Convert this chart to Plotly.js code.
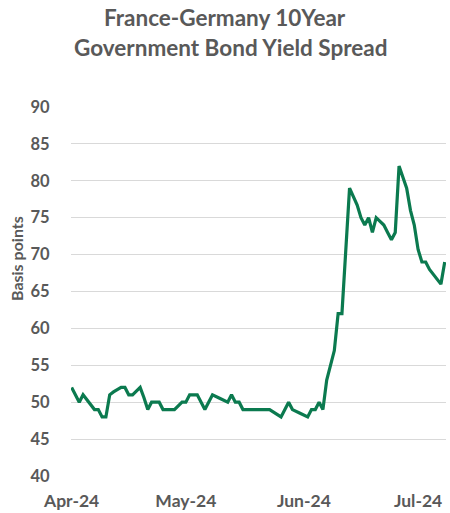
<!DOCTYPE html>
<html>
<head>
<meta charset="utf-8">
<script src="https://cdn.plot.ly/plotly-3.0.1.min.js"></script>
<style>html,body{margin:0;padding:0;background:#fff;}#chart{width:450px;height:513px;}</style>
</head>
<body>
<div id="chart"></div>
<script>
const dates = ["2024-04-01","2024-04-03","2024-04-04","2024-04-06","2024-04-07","2024-04-08","2024-04-09","2024-04-10","2024-04-11","2024-04-12","2024-04-14","2024-04-15","2024-04-16","2024-04-17","2024-04-19","2024-04-20","2024-04-21","2024-04-22","2024-04-24","2024-04-25","2024-04-28","2024-04-30","2024-05-01","2024-05-02","2024-05-04","2024-05-06","2024-05-08","2024-05-10","2024-05-12","2024-05-13","2024-05-14","2024-05-15","2024-05-16","2024-05-23","2024-05-26","2024-05-28","2024-05-29","2024-05-31","2024-06-02","2024-06-03","2024-06-04","2024-06-05","2024-06-06","2024-06-07","2024-06-09","2024-06-10","2024-06-11","2024-06-13","2024-06-15","2024-06-16","2024-06-17","2024-06-18","2024-06-19","2024-06-20","2024-06-22","2024-06-23","2024-06-24","2024-06-25","2024-06-26","2024-06-28","2024-06-29","2024-06-30","2024-07-01","2024-07-02","2024-07-03","2024-07-04","2024-07-07","2024-07-08"];
const spread = [52,50,51,49.6,49,49,48,48,51,51.4,52,52,51,51,52,50.6,49,50,50,49,49,50,50,51,51,49,51,50.5,50,51,50,50,49,49,48,50,49,48.5,48,49,49,50,49,53,57,62,62,79,76.7,75,74,75,73,75,74,73,72,73,82,79,76,74,70.7,69,69,68,66,69];
const yTicks = [40,45,50,55,60,65,70,75,80,85,90];
const xTickVals = ["2024-04-01","2024-05-01","2024-06-01","2024-07-01"];
const xTickText = ["Apr-24","May-24","Jun-24","Jul-24"];
const titleLines = ["France-Germany 10Year","Government Bond Yield Spread"];

const trace = {
  x: dates, y: spread, type: 'scatter', mode: 'lines',
  line: {color: '#0b7a4f', width: 3.2, shape: 'linear'},
  hoverinfo: 'x+y'
};
const gray = '#595959';
const fam = 'Lato, "Open Sans", sans-serif';
const plotH = 513 - 107 - 37;
function py(pix) { return (513 - 37 - pix) / plotH; }
const layout = {
  width: 450, height: 513,
  margin: {l: 71, r: 4, t: 107, b: 37},
  paper_bgcolor: '#fff', plot_bgcolor: '#fff',
  showlegend: false,
  font: {family: fam, color: gray},
  xaxis: {
    type: 'date',
    range: ['2024-03-31 20:00', '2024-07-08 08:00'],
    tickvals: xTickVals, ticktext: xTickText,
    tickfont: {size: 17.5, color: gray, family: fam, weight: 'bold'},
    showgrid: false, zeroline: false, showline: false,
    ticks: 'outside', ticklen: 9, tickcolor: 'rgba(0,0,0,0)'
  },
  yaxis: {
    range: [40, 90],
    tickvals: yTicks,
    tickfont: {size: 16.5, color: gray, family: fam, weight: 'bold'},
    showgrid: true, gridcolor: '#d9d9d9', gridwidth: 1,
    zeroline: false, showline: false,
    ticks: 'outside', ticklen: 17, tickcolor: 'rgba(0,0,0,0)'
  },
  annotations: [
    {
      text: '<b>' + titleLines[0] + '</b>',
      xref: 'paper', yref: 'paper', x: (225 - 71) / 375, y: py(17),
      xanchor: 'center', yanchor: 'middle', showarrow: false,
      font: {size: 22.5, color: gray, family: fam}
    },
    {
      text: '<b>' + titleLines[1] + '</b>',
      xref: 'paper', yref: 'paper', x: (231 - 71) / 375, y: py(48),
      xanchor: 'center', yanchor: 'middle', showarrow: false,
      font: {size: 22.5, color: gray, family: fam}
    },
    {
      text: '<b>Basis points</b>', textangle: -90,
      xref: 'paper', yref: 'paper', x: (16 - 71) / 375, y: py(259),
      xanchor: 'center', yanchor: 'middle', showarrow: false,
      font: {size: 16, color: gray, family: fam}
    }
  ]
};
Plotly.newPlot('chart', [trace], layout, {displayModeBar: false, staticPlot: true});
</script>
</body>
</html>
